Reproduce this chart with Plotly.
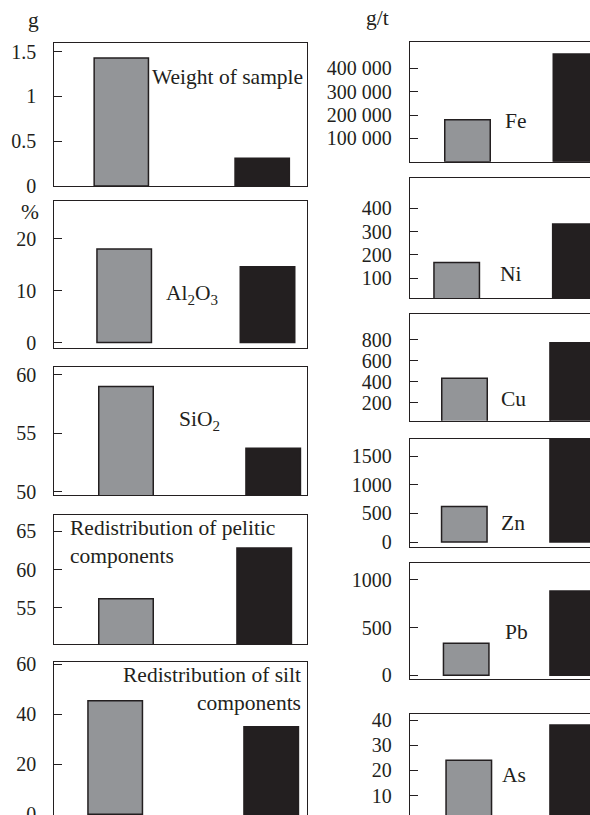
import plotly.graph_objects as go

# ---------------- data ----------------
categories = ["before", "after"]
weight_vals = [1.43, 0.31]
al2o3_vals = [18.0, 14.6]
sio2_vals = [59.0, 53.7]
pelitic_vals = [56.2, 62.8]
silt_vals = [45.4, 35.0]
fe_vals = [180000, 461000]
ni_vals = [167, 333]
cu_vals = [432, 774]
zn_vals = [620, 1850]
pb_vals = [336, 885]
as_vals = [24, 38]

weight_ticks = [0, 0.5, 1, 1.5]
al2o3_ticks = [0, 10, 20]
sio2_ticks = [50, 55, 60]
pelitic_ticks = [55, 60, 65]
silt_ticks = [0, 20, 40, 60]
fe_ticks = [100000, 200000, 300000, 400000]
ni_ticks = [100, 200, 300, 400]
cu_ticks = [200, 400, 600, 800]
zn_ticks = [0, 500, 1000, 1500]
pb_ticks = [0, 500, 1000]
as_ticks = [10, 20, 30, 40]

# ---------------- layout (pixels) ----------------
W, H = 590, 815
GRAY, BLACK = "#939598", "#231f20"
FONT = "Liberation Serif"

panels = [
    dict(v=weight_vals, t=weight_ticks, box=(54.3, 306.7, 42.7, 186.0), yr=(0, 1.6), gc=121.3, bc=262.2, bw=54.3, right=False),
    dict(v=al2o3_vals, t=al2o3_ticks, box=(54.3, 306.7, 201.3, 347.7), yr=(-1.0, 27.2), gc=124.2, bc=267.5, bw=54.5, right=False),
    dict(v=sio2_vals, t=sio2_ticks, box=(54.3, 306.7, 366.7, 495.0), yr=(49.7, 60.7), gc=126.0, bc=273.2, bw=54.5, right=False),
    dict(v=pelitic_vals, t=pelitic_ticks, box=(54.3, 306.7, 515.0, 644.0), yr=(50.3, 67.1), gc=126.0, bc=264.2, bw=54.5, right=False),
    dict(v=silt_vals, t=silt_ticks, box=(54.3, 306.7, 662.3, 815.0), yr=(-0.28, 60.8), gc=115.2, bc=271.2, bw=54.5, right=False),
    dict(v=fe_vals, t=fe_ticks, box=(410.0, 590.0, 41.7, 161.7), yr=(0, 514000), gc=467.5, bc=576.0, bw=45.5, right=True, fmt=",d"),
    dict(v=ni_vals, t=ni_ticks, box=(410.0, 590.0, 178.3, 298.3), yr=(14, 528.6), gc=456.7, bc=575.4, bw=45.5, right=True),
    dict(v=cu_vals, t=cu_ticks, box=(410.0, 590.0, 314.3, 420.7), yr=(26, 1046), gc=464.5, bc=572.7, bw=45.5, right=True),
    dict(v=zn_vals, t=zn_ticks, box=(410.0, 590.0, 439.0, 546.7), yr=(-82, 1797), gc=464.3, bc=572.7, bw=45.5, right=True),
    dict(v=pb_vals, t=pb_ticks, box=(410.0, 590.0, 563.3, 679.0), yr=(-39, 1175), gc=466.2, bc=572.7, bw=45.5, right=True),
    dict(v=as_vals, t=as_ticks, box=(410.0, 590.0, 714.0, 815.0), yr=(2.3, 42.4), gc=468.8, bc=572.7, bw=45.5, right=True),
]


def px(x):
    return x / W


def py(y):
    return 1 - y / H


fig = go.Figure()
layout = dict(
    width=W, height=H, margin=dict(l=0, r=0, t=0, b=0, pad=0), autosize=False,
    paper_bgcolor="white", plot_bgcolor="white", showlegend=False,
    separators=". ", font=dict(family=FONT, size=20, color=BLACK),
)

for i, p in enumerate(panels, start=1):
    x0, x1, yt, yb = p["box"]
    s = p["bc"] - p["gc"]
    xr = [(x0 - p["gc"]) / s, (x1 - p["gc"]) / s]
    fig.add_trace(go.Bar(
        x=[0, 1], y=p["v"], width=p["bw"] / s,
        marker=dict(color=[GRAY, BLACK], line=dict(color=BLACK, width=1.5)),
        xaxis=f"x{i}", yaxis=f"y{i}", hoverinfo="skip",
    ))
    layout[f"xaxis{i}"] = dict(
        domain=[px(x0), min(px(x1), 1.0)], range=xr, anchor=f"y{i}",
        showticklabels=False, ticks="", showgrid=False, zeroline=False,
        showline=True, linecolor=BLACK, linewidth=1.3, mirror=True,
        automargin=False, fixedrange=True,
    )
    layout[f"yaxis{i}"] = dict(
        domain=[max(py(yb), 0.0), py(yt)], range=list(p["yr"]), anchor=f"x{i}",
        tickvals=p["t"], tickformat=p.get("fmt", ""),
        ticks="inside", ticklen=8, tickwidth=1.3, tickcolor=BLACK,
        ticklabelstandoff=13, ticklabeloverflow="allow",
        showgrid=False, zeroline=False,
        showline=True, linecolor=BLACK, linewidth=1.3,
        mirror=(not p["right"]), automargin=False, fixedrange=True,
        tickfont=dict(family=FONT, size=20, color=BLACK),
    )

fig.update_layout(**layout)

ann = [
    ("g", 33, 20, "center", "center"),
    ("%", 30, 212, "center", "center"),
    ("g/t", 377, 18, "center", "center"),
    ("Weight of sample", 149.7, 77, "left", "left"),
    ("Al<sub>2</sub>O<sub>3</sub>", 163.7, 294, "left", "left"),
    ("SiO<sub>2</sub>", 177.3, 420, "left", "left"),
    ("Redistribution of pelitic<br>components", 68, 541.7, "left", "left"),
    ("Redistribution of silt<br>components", 303, 689.2, "right", "right"),
    ("Fe", 515.5, 121, "center", "center"),
    ("Ni", 511, 273.5, "center", "center"),
    ("Cu", 513, 398.5, "center", "center"),
    ("Zn", 513, 523, "center", "center"),
    ("Pb", 516, 632, "center", "center"),
    ("As", 514, 775, "center", "center"),
]
for text, x, y, xa, al in ann:
    fig.add_annotation(
        text=text, x=px(x), y=py(y), xref="paper", yref="paper",
        xanchor=xa, yanchor="middle", align=al, showarrow=False,
        font=dict(family=FONT, size=21.5, color=BLACK),
    )

fig.write_html("out.html", config={"displayModeBar": False},
               post_script="document.body.style.margin='0';")
